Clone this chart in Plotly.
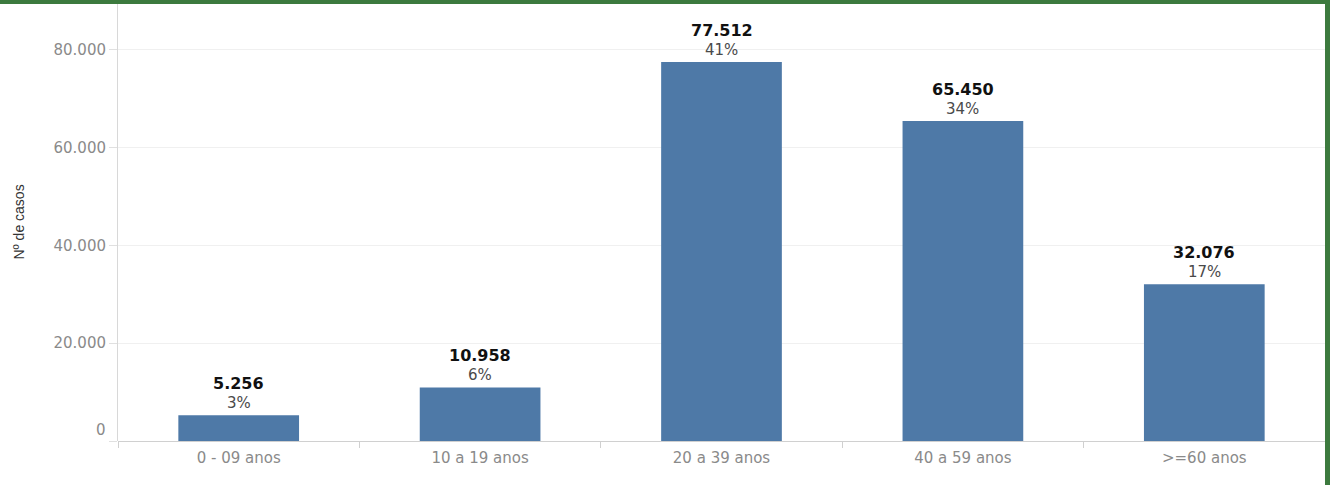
import plotly.graph_objects as go

# data
faixas = ["0 - 09 anos", "10 a 19 anos", "20 a 39 anos", "40 a 59 anos", ">=60 anos"]
casos = [5256, 10958, 77512, 65450, 32076]
casos_txt = ["5.256", "10.958", "77.512", "65.450", "32.076"]
pct_txt = ["3%", "6%", "41%", "34%", "17%"]

y_ticks = [0, 20000, 40000, 60000, 80000]
y_ticktext = ["", "20.000", "40.000", "60.000", "80.000"]

W, H = 1330, 485
ML, MR, MT, MB = 118, 5, 4, 44
GREEN = "#3c7a3e"
TICKFONT = dict(family="DejaVu Sans", size=15, color="#8a8a8a")

fig = go.Figure()
fig.add_trace(go.Bar(
    x=faixas, y=casos, width=0.5,
    marker=dict(color="#4e79a7", line=dict(width=0)),
    hoverinfo="x+y",
))

# value + share labels above each bar
for f, v, vt, pt in zip(faixas, casos, casos_txt, pct_txt):
    fig.add_annotation(x=f, y=v, text=pt, showarrow=False, yanchor="bottom", yshift=1,
                       font=dict(family="DejaVu Sans", size=15, color="#4a4a4a"))
    fig.add_annotation(x=f, y=v, text="<b>" + vt + "</b>", showarrow=False, yanchor="bottom", yshift=20,
                       font=dict(family="DejaVu Sans", size=16, color="#111"))

# Tableau puts the zero label above the baseline
fig.add_annotation(x=0, xref="paper", y=0, text="0", showarrow=False, xanchor="right", yanchor="bottom",
                   xshift=-10, yshift=0, font=TICKFONT)

# y axis title
fig.add_annotation(x=-100 / (W - ML - MR), xref="paper", y=0.5, yref="paper", text="Nº de casos",
                   showarrow=False, textangle=-90, xanchor="center",
                   font=dict(family="Liberation Sans, Arial", size=14, color="#333"))

# green frame (top and right)
pw, ph = W - ML - MR, H - MT - MB
fig.add_shape(type="rect", xref="paper", yref="paper", x0=-ML / pw, x1=1 + MR / pw,
              y0=1, y1=1 + MT / ph, fillcolor=GREEN, line=dict(width=0), layer="above")
fig.add_shape(type="rect", xref="paper", yref="paper", x0=1, x1=1 + MR / pw,
              y0=-MB / ph, y1=1 + MT / ph, fillcolor=GREEN, line=dict(width=0), layer="above")

fig.update_layout(
    width=W, height=H,
    margin=dict(l=ML, r=MR, t=MT, b=MB),
    paper_bgcolor="white", plot_bgcolor="white",
    showlegend=False,
    bargap=0.5,
)
fig.update_xaxes(
    showgrid=False, tickson="boundaries", ticks="outside", ticklen=6, tickcolor="#d0d0d0",
    showline=False, tickfont=TICKFONT, ticklabelstandoff=6,
)
fig.update_yaxes(
    range=[0, 89400], tickvals=y_ticks, ticktext=y_ticktext,
    showgrid=True, gridcolor="#f0f0f0", gridwidth=1,
    zeroline=True, zerolinecolor="#d0d0d0", zerolinewidth=1,
    showline=True, linecolor="#d8d8d8", linewidth=1,
    ticks="outside", ticklen=8, tickcolor="#e0e0e0",
    tickfont=TICKFONT,
)

fig.write_html(
    "out.html",
    config={"displayModeBar": False},
    post_script="document.body.style.margin='0';document.body.style.overflow='hidden';"
                "document.documentElement.style.overflow='hidden';",
)
